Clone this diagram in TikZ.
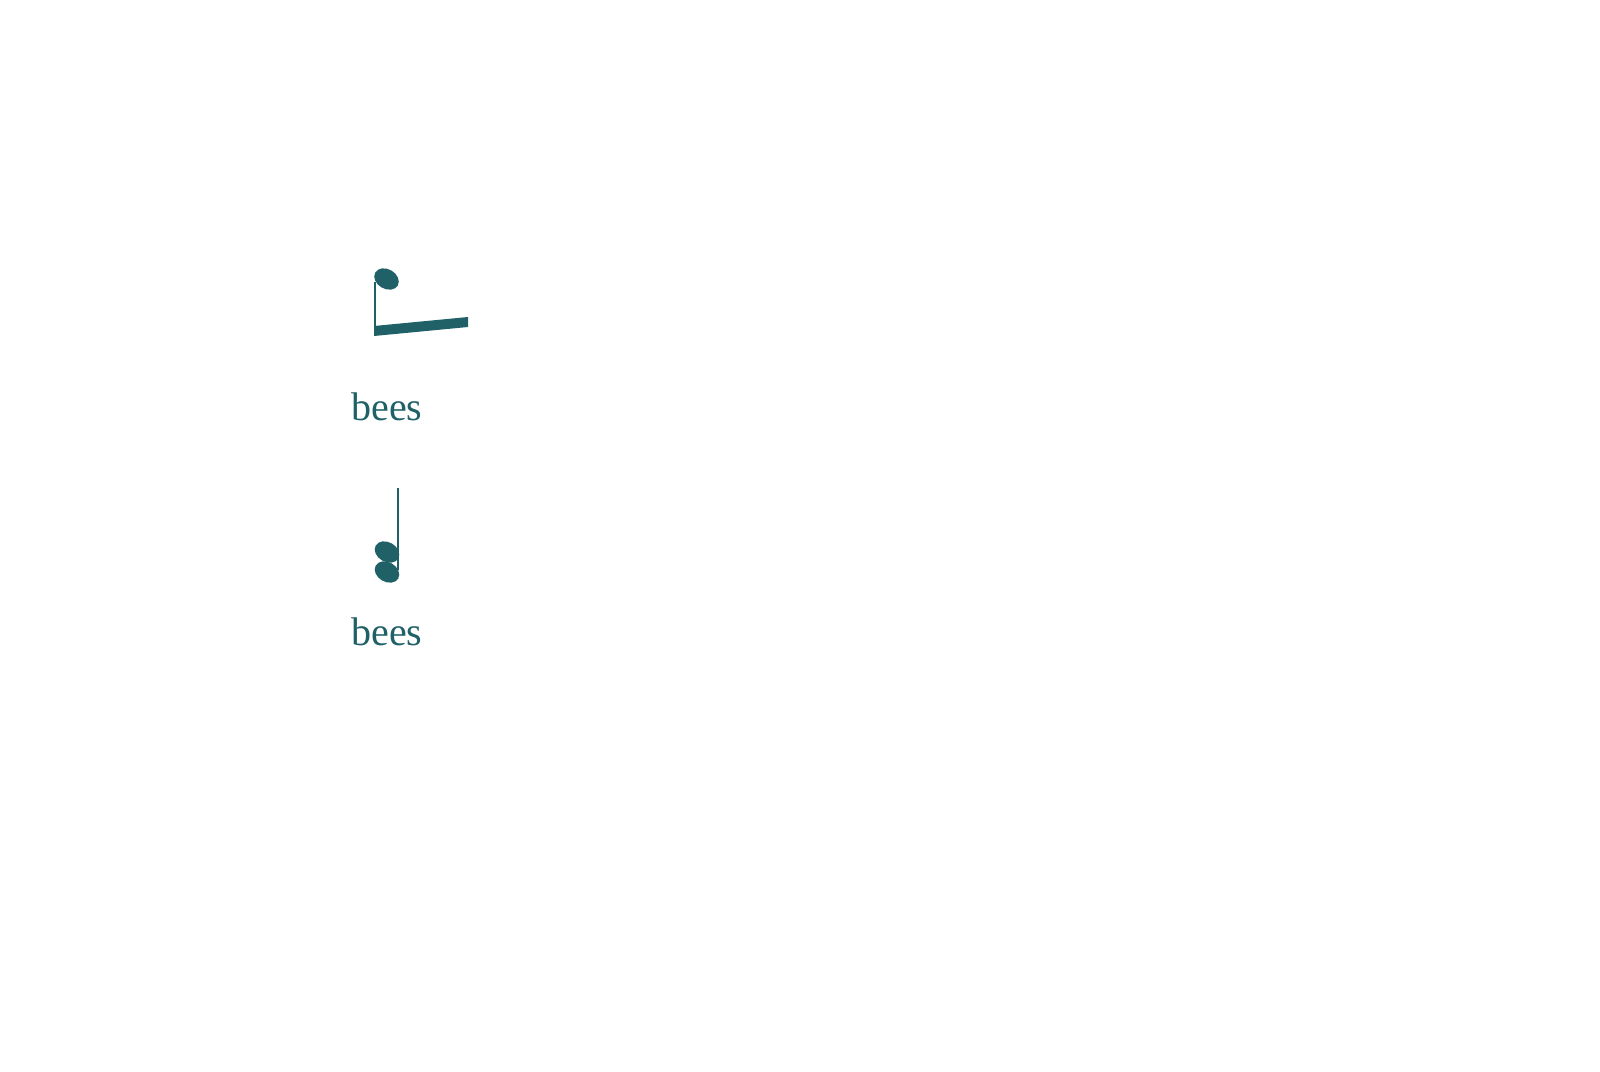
\documentclass[tikz,border=0pt]{standalone}
\usepackage{fontspec}
\setmainfont{Liberation Serif}
\definecolor{teal1}{RGB}{31,97,103}
\begin{document}
\begin{tikzpicture}[x=1pt,y=-1pt,
  lyric/.style={text=teal1,font=\fontsize{40}{42}\selectfont,inner sep=0pt,anchor=base}]
\useasboundingbox (0,0) rectangle (1600,1071);
% first fragment
\fill[teal1,rotate around={-30:(386.5,279)}] (386.5,279) ellipse [x radius=13, y radius=9.8];
\fill[teal1] (374,282) rectangle (376.3,334);
\fill[teal1] (374,326) -- (468,317) -- (468,327) -- (374,336) -- cycle;
\node[lyric] (t1) at (387,420) {bees};
% second fragment
\fill[teal1] (396.8,488) rectangle (399,570);
\fill[teal1,rotate around={-30:(387,552)}] (387,552) ellipse [x radius=13, y radius=9.8];
\fill[teal1,rotate around={-30:(387,572)}] (387,572) ellipse [x radius=13, y radius=9.8];
\node[lyric] (t2) at (387,645) {bees};
\end{tikzpicture}
\end{document}
